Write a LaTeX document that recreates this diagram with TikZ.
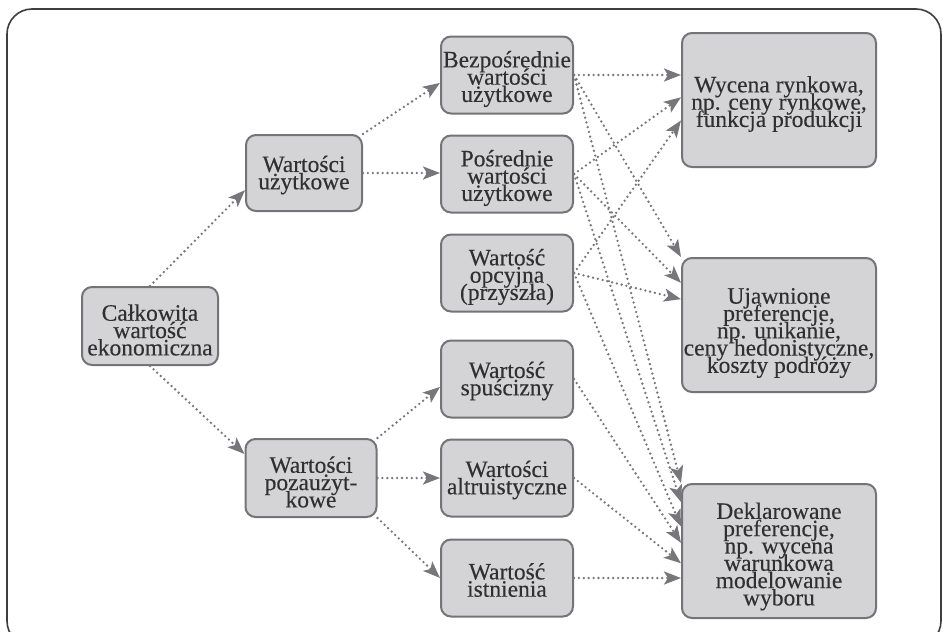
\documentclass[tikz,border=0pt]{standalone}
\usepackage{fontspec}
\setmainfont{Liberation Serif}
\newfontfamily\boxfamily{Liberation Serif}[FakeBold=0.25]
\usetikzlibrary{arrows.meta,calc}
\definecolor{boxfill}{RGB}{212,212,214}
\definecolor{boxline}{RGB}{115,115,120}
\definecolor{txt}{RGB}{48,48,50}
\definecolor{conncol}{RGB}{118,118,123}
\definecolor{framecol}{RGB}{62,62,62}
\newcommand\boxtextfont{\boxfamily\fontsize{23.5}{17.3}\selectfont\setlength{\lineskiplimit}{-30pt}\setlength{\lineskip}{0pt}}
\tikzset{
  box/.style={draw=boxline, fill=boxfill, line width=2pt, rounded corners=10pt, inner sep=0pt},
  midbox/.style={box, minimum width=132pt, minimum height=77pt},
  resbox/.style={box, minimum width=194pt, minimum height=134pt},
  label text/.style={align=center, inner sep=0pt, text=txt, font=\boxtextfont},
  conn/.style={draw=conncol, line width=2.6pt, line cap=round, dash pattern=on 0pt off 4.9pt,
    -{Stealth[length=17pt,width=13pt,inset=4pt]}},
  frame/.style={draw=framecol, line width=1.6pt, rounded corners=25pt}
}
\begin{document}
\begin{tikzpicture}[x=1pt,y=-1pt]
\useasboundingbox (0,0) rectangle (943,632);
\clip (0,0) rectangle (943,632);
\draw[frame] (7,9) rectangle (941,646);

% value categories
\node[box, minimum width=136pt, minimum height=78pt] (tev) at (150,326) {};
\node[box, minimum width=116pt, minimum height=76pt] (uz) at (304,173) {};
\node[box, minimum width=131pt, minimum height=78pt] (poza) at (311,478) {};

\node[midbox] (bez) at (507,75) {};
\node[midbox] (pos) at (507,174) {};
\node[midbox] (opc) at (507,273) {};
\node[midbox] (spu) at (507,379) {};
\node[midbox] (alt) at (507,478) {};
\node[midbox] (ist) at (507,578) {};

% valuation methods
\node[resbox] (wyc) at (779,100) {};
\node[resbox] (uja) at (779,325) {};
\node[resbox] (dek) at (779,551) {};

% box texts
\node[label text] (tev-t) at ([yshift=-4pt]tev.center) {Całkowita\\wartość\\ekonomiczna};
\node[label text] (uz-t) at ([yshift=-2pt]uz.center) {Wartości\\użytkowe};
\node[label text] (poza-t) at ([yshift=-4pt]poza.center) {Wartości\\pozaużyt-\\kowe};
\node[label text] (bez-t) at ([yshift=-4pt]bez.center) {Bezpośrednie\\wartości\\użytkowe};
\node[label text] (pos-t) at ([yshift=-4pt]pos.center) {Pośrednie\\wartości\\użytkowe};
\node[label text] (opc-t) at ([yshift=-4pt]opc.center) {Wartość\\opcyjna\\(przyszła)};
\node[label text] (spu-t) at ([yshift=-2pt]spu.center) {Wartość\\spuścizny};
\node[label text] (alt-t) at ([yshift=-2pt]alt.center) {Wartości\\altruistyczne};
\node[label text] (ist-t) at ([yshift=-2pt]ist.center) {Wartość\\istnienia};
\node[label text] (wyc-t) at ([yshift=-4pt]wyc.center) {Wycena rynkowa,\\np. ceny rynkowe,\\funkcja produkcji};
\node[label text] (uja-t) at ([yshift=-8pt]uja.center) {Ujawnione\\preferencje,\\np. unikanie,\\ceny hedonistyczne,\\koszty podróży};
\node[label text] (dek-t) at ([yshift=-5.5pt]dek.center) {Deklarowane\\preferencje,\\np. wycena\\warunkowa\\modelowanie\\wyboru};

% hierarchy
\draw[conn] (tev.north) -- ($(uz.north west)!0.72!(uz.south west)$);
\draw[conn] (tev.south) -- ($(poza.north west)!0.2!(poza.south west)$);
\draw[conn] (uz.north east) -- ($(bez.north west)!0.6!(bez.south west)$);
\draw[conn] (uz.east) -- (pos.west |- uz.east);
\draw[conn] (poza.north east) -- ($(spu.north west)!0.6!(spu.south west)$);
\draw[conn] (poza.east) -- (alt.west |- poza.east);
\draw[conn] (poza.south east) -- (ist.west);

% links to valuation methods
\draw[conn] (bez.east) -- (wyc.west |- bez.east);
\draw[conn] (bez.east) -- (uja.north west);
\draw[conn] (bez.east) -- (dek.north west);
\draw[conn] (pos.east) -- ($(wyc.north west)!0.48!(wyc.south west)$);
\draw[conn] (pos.east) -- ($(uja.north west)!0.19!(uja.south west)$);
\draw[conn] (pos.east) -- ($(dek.north west)!0.14!(dek.south west)$);
\draw[conn] (opc.east) -- ($(wyc.north west)!0.65!(wyc.south west)$);
\draw[conn] (opc.east) -- ($(uja.north west)!0.31!(uja.south west)$);
\draw[conn] (opc.east) -- ($(dek.north west)!0.32!(dek.south west)$);
\draw[conn] (spu.east) -- ($(dek.north west)!0.44!(dek.south west)$);
\draw[conn] (alt.east) -- ($(dek.north west)!0.59!(dek.south west)$);
\draw[conn] (ist.east) -- (dek.west |- ist.east);
\end{tikzpicture}
\end{document}
